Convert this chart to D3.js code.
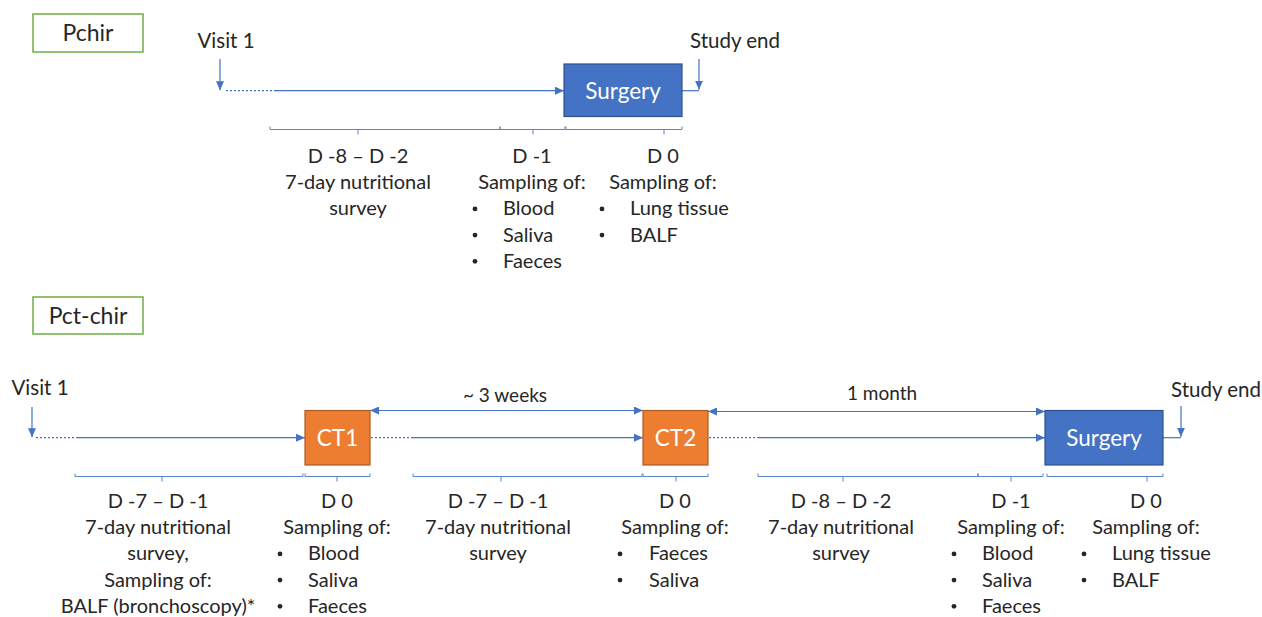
<!DOCTYPE html>
<html>
<head>
<meta charset="utf-8">
<script src="https://cdn.jsdelivr.net/npm/d3@7"></script>
<style>
body { margin: 0; background: #fff; }
text { font-family: Lato, "Liberation Sans", sans-serif; fill: #262626; }
</style>
</head>
<body>
<svg width="1262" height="617"></svg>
<script>
// study arms
var groups = ["Pchir", "Pct-chir"];

// events on the timelines
var eventLabels = ["Surgery", "CT1", "CT2", "Surgery"];
var eventGroup = [0, 1, 1, 1];
var eventKind = ["surgery", "ct", "ct", "surgery"];

// intervals between events (arm 2)
var intervalLabels = ["~ 3 weeks", "1 month"];

// period blocks under the timelines
var blockGroup = [0, 0, 0, 1, 1, 1, 1, 1, 1, 1];
var blockHead = ["D -8 – D -2", "D -1", "D 0",
                 "D -7 – D -1", "D 0", "D -7 – D -1", "D 0", "D -8 – D -2", "D -1", "D 0"];
var blockLines = [["7-day nutritional", "survey"], ["Sampling of:"], ["Sampling of:"],
                  ["7-day nutritional", "survey,", "Sampling of:", "BALF (bronchoscopy)*"],
                  ["Sampling of:"], ["7-day nutritional", "survey"], ["Sampling of:"],
                  ["7-day nutritional", "survey"], ["Sampling of:"], ["Sampling of:"]];
var blockBullets = [[], ["Blood", "Saliva", "Faeces"], ["Lung tissue", "BALF"],
                    [], ["Blood", "Saliva", "Faeces"], [], ["Faeces", "Saliva"],
                    [], ["Blood", "Saliva", "Faeces"], ["Lung tissue", "BALF"]];

// ---- layout (diagram units) ----
var svg = d3.select("svg"),
    width = +svg.attr("width"),
    height = +svg.attr("height");
var x = d3.scaleLinear().domain([0, 1262]).range([0, width]);
var y = d3.scaleLinear().domain([0, 617]).range([0, height]);

var lineY = [90.7, 437.7];
var groupBox = [[33, 14, 110, 38], [33, 297, 110, 37]];
var eventX = [[564, 682], [305, 370], [643, 708], [1045, 1163]];
var eventY = [[64, 116.5], [410.5, 465], [410.5, 465], [410.5, 465]];
var visitX = [220, 32], visitTop = [59, 407], visitLabel = [[226, 48], [40, 395]];
var endX = [699, 1181], endTop = [59, 406], endLabel = [[735, 48], [1216, 397]];
var startDots = [[[226, 274]], [[36, 76], [371, 413], [709, 757]]];
var intervalX = [[370, 643], [708, 1045]], intervalY = [410.5, 411.5];
var intervalLabelPos = [[505, 402], [882, 400]];
var braceY = [129.5, 476.5];
var brace = [[270, 500, 358], [500, 565, 533], [566, 682, 664],
             [75, 303, 162], [305, 370, 337], [413, 642, 501], [643, 708, 676],
             [758, 978, 843], [978, 1043, 1011], [1047, 1163, 1147]];
var blockCenter = [358, 532, 663, 158, 337, 498, 675, 841, 1011, 1146];
var bulletOff = [0, 57, 61, 0, 57, 0, 55, 0, 57, 62];
var textOff = [0, 29, 33, 0, 29, 0, 26, 0, 29, 34];
var firstBase = [163, 508], step = [26.2, 26.2];

var blue = "#4472c4";

// font scale so the metrics are close to the original font
var probe = svg.append("text").style("font-size", "100px").text("7-day nutritional");
var k = 730 / probe.node().getComputedTextLength();
probe.remove();
function fs(px) { return (px * k).toFixed(2) + "px"; }

var defs = svg.append("defs");
defs.append("marker")
    .attr("id", "arr")
    .attr("markerUnits", "userSpaceOnUse")
    .attr("viewBox", "0 0 9 8")
    .attr("refX", 9).attr("refY", 4)
    .attr("markerWidth", 9).attr("markerHeight", 8)
    .attr("orient", "auto-start-reverse")
  .append("path")
    .attr("d", "M0,0L9,4L0,8Z")
    .attr("fill", blue);

// group labels
groups.forEach(function(g, i) {
  var b = groupBox[i];
  svg.append("rect")
     .attr("x", x(b[0])).attr("y", y(b[1]))
     .attr("width", x(b[2]) - x(0)).attr("height", y(b[3]) - y(0))
     .attr("fill", "#fff").attr("stroke", "#70ad47").attr("stroke-width", 1.5);
  svg.append("text")
     .attr("x", x(b[0] + b[2] / 2)).attr("y", y(b[1] + b[3] / 2 + 8))
     .attr("text-anchor", "middle").style("font-size", fs(23))
     .text(g);
});

// dotted starts + solid lines to each event
var line = svg.append("g").attr("stroke", blue).attr("fill", "none").attr("stroke-width", 1.2);
startDots.forEach(function(segs, gi) {
  var evs = d3.range(eventLabels.length).filter(function(e) { return eventGroup[e] === gi; });
  segs.forEach(function(s, j) {
    line.append("line")
        .attr("x1", x(s[0])).attr("x2", x(s[1]))
        .attr("y1", y(lineY[gi])).attr("y2", y(lineY[gi]))
        .attr("stroke-dasharray", "2,2");
    line.append("line")
        .attr("x1", x(s[1])).attr("x2", x(eventX[evs[j]][0]))
        .attr("y1", y(lineY[gi])).attr("y2", y(lineY[gi]))
        .attr("marker-end", "url(#arr)");
  });
});

// visit 1 and study end arrows
groups.forEach(function(g, gi) {
  line.append("line")
      .attr("x1", x(visitX[gi])).attr("x2", x(visitX[gi]))
      .attr("y1", y(visitTop[gi])).attr("y2", y(lineY[gi] - 0.5))
      .attr("marker-end", "url(#arr)");
  var last = d3.max(eventX.filter(function(d, e) { return eventGroup[e] === gi; }), function(d) { return d[1]; });
  line.append("line")
      .attr("x1", x(last)).attr("x2", x(endX[gi]))
      .attr("y1", y(lineY[gi])).attr("y2", y(lineY[gi]));
  line.append("line")
      .attr("x1", x(endX[gi])).attr("x2", x(endX[gi]))
      .attr("y1", y(endTop[gi])).attr("y2", y(lineY[gi] - 1))
      .attr("marker-end", "url(#arr)");
  svg.append("text")
     .attr("x", x(visitLabel[gi][0])).attr("y", y(visitLabel[gi][1]))
     .attr("text-anchor", "middle").style("font-size", fs(20.5))
     .text("Visit 1");
  svg.append("text")
     .attr("x", x(endLabel[gi][0])).attr("y", y(endLabel[gi][1]))
     .attr("text-anchor", "middle").style("font-size", fs(20.5))
     .text("Study end");
});

// interval double arrows
intervalLabels.forEach(function(lab, i) {
  line.append("line")
      .attr("x1", x(intervalX[i][0])).attr("x2", x(intervalX[i][1]))
      .attr("y1", y(intervalY[i])).attr("y2", y(intervalY[i]))
      .attr("marker-start", "url(#arr)").attr("marker-end", "url(#arr)");
  svg.append("text")
     .attr("x", x(intervalLabelPos[i][0])).attr("y", y(intervalLabelPos[i][1]))
     .attr("text-anchor", "middle").style("font-size", fs(19))
     .text(lab);
});

// event boxes
var ev = svg.selectAll(".event")
  .data(eventLabels.map(function(l, i) { return {label: l, i: i}; }))
  .enter().append("g").attr("class", "event");
ev.append("rect")
  .attr("x", function(d) { return x(eventX[d.i][0]); })
  .attr("y", function(d) { return y(eventY[d.i][0]); })
  .attr("width", function(d) { return x(eventX[d.i][1]) - x(eventX[d.i][0]); })
  .attr("height", function(d) { return y(eventY[d.i][1]) - y(eventY[d.i][0]); })
  .attr("fill", function(d) { return eventKind[d.i] === "ct" ? "#ed7d31" : "#4472c4"; })
  .attr("stroke", function(d) { return eventKind[d.i] === "ct" ? "#ae5a21" : "#2f528f"; })
  .attr("stroke-width", 1.2);
ev.append("text")
  .attr("x", function(d) { return x((eventX[d.i][0] + eventX[d.i][1]) / 2); })
  .attr("y", function(d) { return y((eventY[d.i][0] + eventY[d.i][1]) / 2 + 8.5); })
  .attr("text-anchor", "middle").style("font-size", fs(22.5))
  .style("fill", "#fff")
  .text(function(d) { return d.label; });

// braces
var br = svg.append("g").attr("stroke", "#5b84d0").attr("fill", "none").attr("stroke-width", 1);
brace.forEach(function(b, i) {
  var by = braceY[blockGroup[i]];
  br.append("path")
    .attr("d", "M" + x(b[0]) + "," + y(by - 3) + "V" + y(by) + "H" + x(b[1]) + "V" + y(by - 3) +
               "M" + x(b[2]) + "," + y(by) + "V" + y(by + 5));
});

// text blocks
blockHead.forEach(function(h, i) {
  var gi = blockGroup[i], cx = blockCenter[i];
  var rows = [h].concat(blockLines[i]);
  rows.forEach(function(t, r) {
    svg.append("text")
       .attr("x", x(cx)).attr("y", y(firstBase[gi] + r * step[gi]))
       .attr("text-anchor", "middle").style("font-size", fs(20))
       .text(t);
  });
  blockBullets[i].forEach(function(t, r) {
    var base = firstBase[gi] + (rows.length + r) * step[gi];
    svg.append("circle")
       .attr("cx", x(cx - bulletOff[i])).attr("cy", y(base - 6.5))
       .attr("r", 2.4)
       .attr("fill", "#262626");
    svg.append("text")
       .attr("x", x(cx - textOff[i])).attr("y", y(base))
       .style("font-size", fs(20))
       .text(t);
  });
});
</script>
</body>
</html>
